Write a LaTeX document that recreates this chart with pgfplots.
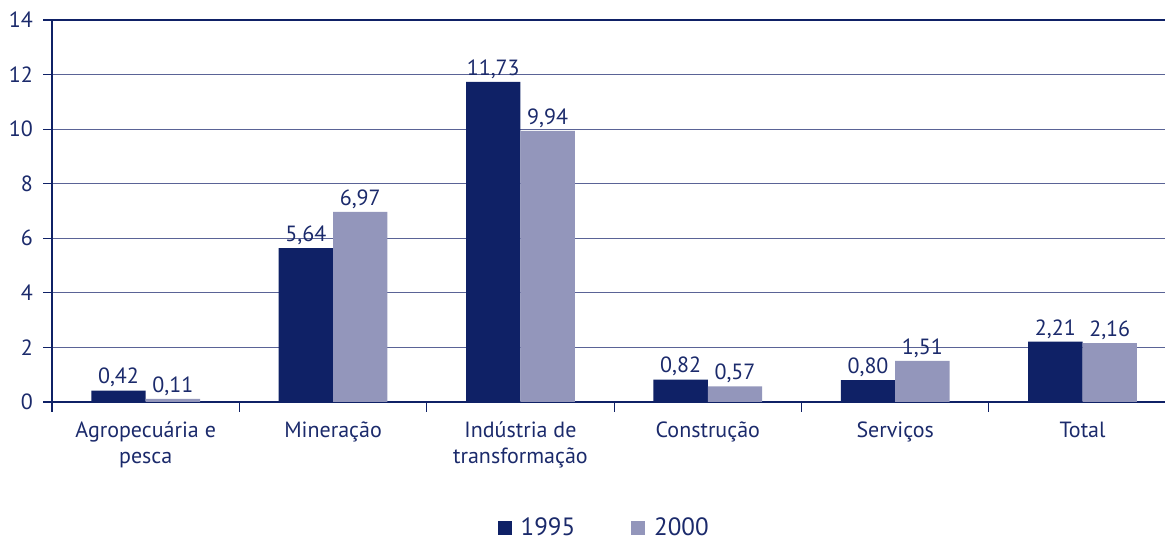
\documentclass[border=0pt]{standalone}
\usepackage{pgfplots}
\pgfplotsset{compat=1.18}
\usepackage{fontspec}
\setmainfont{PT Sans}
\definecolor{navy}{HTML}{0F2166}
\definecolor{lav}{HTML}{9396BB}
\definecolor{txt}{HTML}{1B2A6B}
\definecolor{gridc}{HTML}{5A6396}
\begin{document}
\begin{tikzpicture}
\begin{axis}[
  scale only axis,
  width=556.5pt, height=191pt,
  ymin=0, ymax=14, ytick={0,2,...,14},
  xmin=-0.5, xmax=5.44,
  xtick={0,...,5},
  xticklabels={Agropecuária e\\pesca, Mineração, Indústria de\\transformação, Construção, Serviços, Total},
  xticklabel style={align=center, text=txt, yshift=-2pt},
  major x tick style={draw=none},
  minor xtick={-0.5,0.5,...,4.5},
  minor x tick style={draw=navy, line width=0.6pt},
  tick align=outside,
  major tick length=4.5pt,
  minor tick length=5pt,
  y tick style={draw=navy, line width=0.6pt},
  yticklabel style={text=txt, xshift=-1.5pt},
  axis x line*=bottom, axis y line*=left,
  axis line style={draw=navy, line width=0.9pt, -},
  ymajorgrids,
  major grid style={draw=gridc, line width=0.6pt},
  ybar, bar width=0.29,
  font=\fontsize{11}{13}\selectfont,
  /pgf/number format/assume math mode=true,
  nodes near coords={\pgfmathprintnumber[fixed,fixed zerofill,precision=2,use comma,assume math mode=true]{\pgfplotspointmeta}},
  every node near coord/.append style={text=txt, font=\fontsize{11}{13}\selectfont, inner sep=1.5pt},
  legend style={at={(0.497,-0.33)}, anchor=center, draw=none, legend columns=2, font=\fontsize{12.5}{14}\selectfont, text=txt,
    /tikz/every odd column/.append style={column sep=2.5pt},
    /tikz/every even column/.append style={column sep=26pt}},
  legend image code/.code={\fill[#1] (0pt,-3.5pt) rectangle (7pt,3.5pt);},
]
\addplot[fill=navy, draw=none, bar shift=-0.145] coordinates {(0,0.42) (1,5.64) (2,11.73) (3,0.82) (4,0.80) (5,2.21)};
\addplot[fill=lav, draw=none, bar shift=0.145] coordinates {(0,0.11) (1,6.97) (2,9.94) (3,0.57) (4,1.51) (5,2.16)};
\legend{1995,2000}
\draw[navy, line width=0.9pt] (rel axis cs:0,1) -- (rel axis cs:1,1);
\end{axis}
\pgfresetboundingbox
\path ([xshift=-26pt,yshift=-71pt]current axis.south west) rectangle ([xshift=3.5pt,yshift=10pt]current axis.north east);
\end{tikzpicture}
\end{document}
